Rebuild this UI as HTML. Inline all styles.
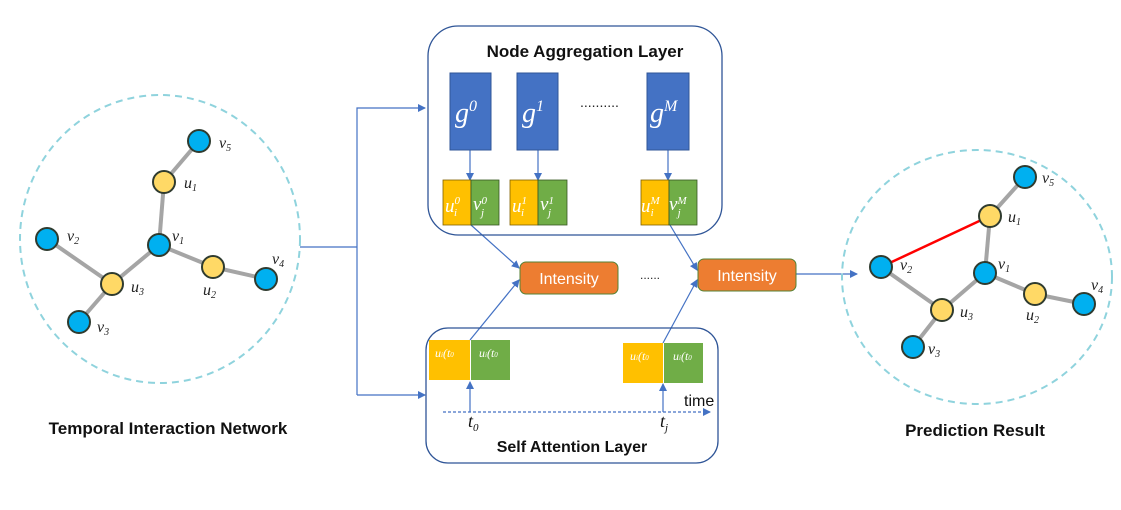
<!DOCTYPE html>
<html><head><meta charset="utf-8"><style>
body{margin:0;background:#fff}
svg text{font-family:"Liberation Sans",sans-serif}
svg .m, svg .m text{font-family:"Liberation Serif",serif;font-style:italic}
.t{font-weight:bold}
</style></head><body>
<svg width="1121" height="505" viewBox="0 0 1121 505" xmlns="http://www.w3.org/2000/svg">
<defs>
<marker id="a" markerWidth="8" markerHeight="8" refX="7" refY="4" orient="auto" markerUnits="userSpaceOnUse"><path d="M0,0 L8,4 L0,8 z" fill="#4472c4"/></marker>
</defs>
<!-- left graph -->
<ellipse cx="160" cy="239" rx="140" ry="144" fill="none" stroke="#8fd3dd" stroke-width="2" stroke-dasharray="7,5"/>
<g stroke="#a5a5a5" stroke-width="4">
<line x1="199" y1="141" x2="164" y2="182"/><line x1="164" y1="182" x2="159" y2="245"/>
<line x1="159" y1="245" x2="112" y2="284"/><line x1="47" y1="239" x2="112" y2="284"/>
<line x1="112" y1="284" x2="79" y2="322"/><line x1="159" y1="245" x2="213" y2="267"/>
<line x1="213" y1="267" x2="266" y2="279"/></g>
<g stroke="#2f3b2f" stroke-width="2">
<circle cx="199" cy="141" r="11" fill="#00b0f0"/><circle cx="164" cy="182" r="11" fill="#ffd966"/>
<circle cx="159" cy="245" r="11" fill="#00b0f0"/><circle cx="47" cy="239" r="11" fill="#00b0f0"/>
<circle cx="112" cy="284" r="11" fill="#ffd966"/><circle cx="79" cy="322" r="11" fill="#00b0f0"/>
<circle cx="213" cy="267" r="11" fill="#ffd966"/><circle cx="266" cy="279" r="11" fill="#00b0f0"/></g>
<g class="m" font-size="16" fill="#222">
<text x="219" y="148">v<tspan font-size="10" dy="3">5</tspan></text>
<text x="184" y="188">u<tspan font-size="10" dy="3">1</tspan></text>
<text x="172" y="241">v<tspan font-size="10" dy="3">1</tspan></text>
<text x="67" y="241">v<tspan font-size="10" dy="3">2</tspan></text>
<text x="131" y="292">u<tspan font-size="10" dy="3">3</tspan></text>
<text x="97" y="332">v<tspan font-size="10" dy="3">3</tspan></text>
<text x="203" y="295">u<tspan font-size="10" dy="3">2</tspan></text>
<text x="272" y="264">v<tspan font-size="10" dy="3">4</tspan></text>
</g>
<text x="168" y="434" font-size="17" class="t" text-anchor="middle" fill="#111">Temporal Interaction Network</text>
<!-- connectors -->
<g stroke="#4472c4" stroke-width="1.2" fill="none">
<polyline points="300,247 357,247"/>
<polyline points="357,395 357,108 425,108" marker-end="url(#a)"/>
<polyline points="357,395 425,395" marker-end="url(#a)"/>
<line x1="796" y1="274" x2="857" y2="274" marker-end="url(#a)"/>
<line x1="471" y1="225" x2="519" y2="268" marker-end="url(#a)"/>
<line x1="670" y1="225" x2="697" y2="270" marker-end="url(#a)"/>
<line x1="470" y1="340" x2="519" y2="280" marker-end="url(#a)"/>
<line x1="663" y1="343" x2="697" y2="280" marker-end="url(#a)"/>
<line x1="470" y1="150" x2="470" y2="180" marker-end="url(#a)"/>
<line x1="538" y1="150" x2="538" y2="180" marker-end="url(#a)"/>
<line x1="668" y1="150" x2="668" y2="180" marker-end="url(#a)"/>
<line x1="470" y1="412" x2="470" y2="382" marker-end="url(#a)"/>
<line x1="663" y1="412" x2="663" y2="384" marker-end="url(#a)"/>
<line x1="443" y1="412" x2="710" y2="412" stroke-dasharray="3,2" marker-end="url(#a)"/>
</g>
<!-- node aggregation -->
<rect x="428" y="26" width="294" height="209" rx="30" fill="none" stroke="#2f5597" stroke-width="1.3"/>
<text x="585" y="57" font-size="17" class="t" text-anchor="middle" fill="#111">Node Aggregation Layer</text>
<g fill="#4472c4" stroke="#2f5597"><rect x="450" y="73" width="41" height="77"/><rect x="517" y="73" width="41" height="77"/><rect x="647" y="73" width="42" height="77"/></g>
<g class="m" fill="#fff" font-size="28"><text x="455" y="122">g<tspan font-size="16" dy="-11">0</tspan></text><text x="522" y="122">g<tspan font-size="16" dy="-11">1</tspan></text><text x="650" y="122">g<tspan font-size="16" dy="-11">M</tspan></text></g>
<text x="580" y="107" font-size="14" fill="#222">..........</text>
<g stroke="#7f6000" stroke-width="0.8"><rect x="443" y="180" width="28" height="45" fill="#ffc000"/><rect x="510" y="180" width="28" height="45" fill="#ffc000"/><rect x="641" y="180" width="28" height="45" fill="#ffc000"/></g>
<g stroke="#385723" stroke-width="0.8"><rect x="471" y="180" width="28" height="45" fill="#70ad47"/><rect x="538" y="180" width="29" height="45" fill="#70ad47"/><rect x="669" y="180" width="28" height="45" fill="#70ad47"/></g>
<g class="m" fill="#fff" font-size="19">
<text x="445" y="212">u<tspan font-size="11" dy="-8">0</tspan><tspan font-size="11" dx="-6" dy="12">i</tspan></text>
<text x="473" y="210">v<tspan font-size="11" dy="-6">0</tspan><tspan font-size="11" dx="-6" dy="12">j</tspan></text>
<text x="512" y="212">u<tspan font-size="11" dy="-8">1</tspan><tspan font-size="11" dx="-6" dy="12">i</tspan></text>
<text x="540" y="210">v<tspan font-size="11" dy="-6">1</tspan><tspan font-size="11" dx="-6" dy="12">j</tspan></text>
<text x="641" y="212">u<tspan font-size="11" dy="-8">M</tspan><tspan font-size="11" dx="-9" dy="12">i</tspan></text>
<text x="669" y="210">v<tspan font-size="11" dy="-6">M</tspan><tspan font-size="11" dx="-9" dy="12">j</tspan></text>
</g>
<!-- intensity -->
<rect x="520" y="262" width="98" height="32" rx="6" fill="#ed7d31" stroke="#548235"/>
<rect x="698" y="259" width="98" height="32" rx="6" fill="#ed7d31" stroke="#548235"/>
<text x="569" y="284" font-size="16" fill="#fff" text-anchor="middle">Intensity</text>
<text x="747" y="281" font-size="16" fill="#fff" text-anchor="middle">Intensity</text>
<text x="640" y="279" font-size="12" fill="#222">......</text>
<!-- self attention -->
<rect x="426" y="328" width="292" height="135" rx="22" fill="none" stroke="#2f5597" stroke-width="1.3"/>
<rect x="429" y="340" width="41" height="40" fill="#ffc000"/><rect x="471" y="340" width="39" height="40" fill="#70ad47"/>
<rect x="623" y="343" width="40" height="40" fill="#ffc000"/><rect x="664" y="343" width="39" height="40" fill="#70ad47"/>
<g class="m" fill="#fff" font-size="12"><text x="435" y="357">u<tspan font-size="7">i</tspan>(t<tspan font-size="7">0</tspan></text><text x="479" y="357">u<tspan font-size="7">i</tspan>(t<tspan font-size="7">0</tspan></text><text x="630" y="360">u<tspan font-size="7">i</tspan>(t<tspan font-size="7">0</tspan></text><text x="673" y="360">u<tspan font-size="7">i</tspan>(t<tspan font-size="7">0</tspan></text></g>
<text x="684" y="406" font-size="16" fill="#111">time</text>
<text x="468" y="427" class="m" font-size="18" fill="#111">t<tspan font-size="11" dy="4">0</tspan></text>
<text x="660" y="427" class="m" font-size="18" fill="#111">t<tspan font-size="11" dy="4">j</tspan></text>
<text x="572" y="452" font-size="16" class="t" text-anchor="middle" fill="#111">Self Attention Layer</text>
<!-- right graph -->
<ellipse cx="977" cy="277" rx="135" ry="127" fill="none" stroke="#8fd3dd" stroke-width="2" stroke-dasharray="7,5"/>
<line x1="881" y1="267" x2="990" y2="216" stroke="#ff0000" stroke-width="2.5"/>
<g stroke="#a5a5a5" stroke-width="4">
<line x1="1025" y1="177" x2="990" y2="216"/><line x1="990" y1="216" x2="985" y2="273"/>
<line x1="985" y1="273" x2="942" y2="310"/><line x1="881" y1="267" x2="942" y2="310"/>
<line x1="942" y1="310" x2="913" y2="347"/><line x1="985" y1="273" x2="1035" y2="294"/>
<line x1="1035" y1="294" x2="1084" y2="304"/></g>
<g stroke="#2f3b2f" stroke-width="2">
<circle cx="1025" cy="177" r="11" fill="#00b0f0"/><circle cx="990" cy="216" r="11" fill="#ffd966"/>
<circle cx="985" cy="273" r="11" fill="#00b0f0"/><circle cx="881" cy="267" r="11" fill="#00b0f0"/>
<circle cx="942" cy="310" r="11" fill="#ffd966"/><circle cx="913" cy="347" r="11" fill="#00b0f0"/>
<circle cx="1035" cy="294" r="11" fill="#ffd966"/><circle cx="1084" cy="304" r="11" fill="#00b0f0"/></g>
<g class="m" font-size="16" fill="#222">
<text x="1042" y="183">v<tspan font-size="10" dy="3">5</tspan></text>
<text x="1008" y="222">u<tspan font-size="10" dy="3">1</tspan></text>
<text x="998" y="269">v<tspan font-size="10" dy="3">1</tspan></text>
<text x="900" y="270">v<tspan font-size="10" dy="3">2</tspan></text>
<text x="960" y="317">u<tspan font-size="10" dy="3">3</tspan></text>
<text x="928" y="354">v<tspan font-size="10" dy="3">3</tspan></text>
<text x="1026" y="320">u<tspan font-size="10" dy="3">2</tspan></text>
<text x="1091" y="290">v<tspan font-size="10" dy="3">4</tspan></text>
</g>
<text x="975" y="436" font-size="17" class="t" text-anchor="middle" fill="#111">Prediction Result</text>
</svg>
</body></html>
